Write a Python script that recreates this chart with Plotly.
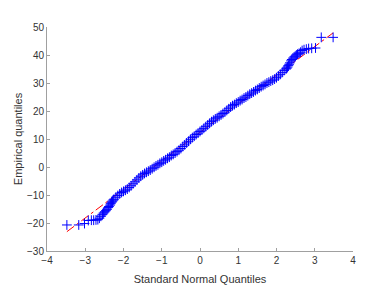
import plotly.graph_objects as go

# Standard normal quantiles (x) and sorted empirical values (y)
theoretical_q = [
    -3.48, -3.17, -3.02, -2.92, -2.84, -2.78, -2.72, -2.67, -2.63, -2.59,
    -2.55, -2.52, -2.49, -2.46, -2.43, -2.40, -2.38, -2.35, -2.33, -2.31,
    -2.29, -2.27, -2.25,
    -2.20, -2.15, -2.10, -2.05, -2.00, -1.95, -1.90, -1.85, -1.80, -1.75,
    -1.70, -1.65, -1.60, -1.55, -1.50, -1.45, -1.40, -1.35, -1.30, -1.25,
    -1.20, -1.15, -1.10, -1.05, -1.00, -0.95, -0.90, -0.85, -0.80, -0.75,
    -0.70, -0.65, -0.60, -0.55, -0.50, -0.45, -0.40, -0.35, -0.30, -0.25,
    -0.20, -0.15, -0.10, -0.05, 0.00, 0.05, 0.10, 0.15, 0.20, 0.25,
    0.30, 0.35, 0.40, 0.45, 0.50, 0.55, 0.60, 0.65, 0.70, 0.75,
    0.80, 0.85, 0.90, 0.95, 1.00, 1.05, 1.10, 1.15, 1.20, 1.25,
    1.30, 1.35, 1.40, 1.45, 1.50, 1.55, 1.60, 1.65, 1.70, 1.75,
    1.80, 1.85, 1.90, 1.95, 2.00, 2.05, 2.10, 2.15, 2.20,
    2.25, 2.27, 2.29, 2.31, 2.33, 2.35, 2.38, 2.40, 2.43, 2.46,
    2.49, 2.52, 2.55, 2.59, 2.63, 2.67, 2.72, 2.78, 2.84, 2.92,
    3.02, 3.17, 3.48,
]
empirical_q = [
    -20.7, -20.7, -20.2, -19.1, -19.0, -19.0, -18.9, -18.8, -18.3, -17.6,
    -16.9, -16.4, -16.0, -15.6, -15.1, -14.5, -14.1, -13.6, -13.1, -12.6,
    -12.2, -11.8, -11.5,
    -10.8, -10.2, -9.6, -9.1, -8.7, -8.3, -7.9, -7.3, -6.7, -6.0,
    -5.3, -4.6, -3.9, -3.3, -2.8, -2.3, -1.9, -1.5, -1.1, -0.6,
    -0.1, 0.4, 0.8, 1.3, 1.7, 2.2, 2.6, 3.1, 3.5, 4.1,
    4.5, 5.0, 5.5, 6.0, 6.6, 7.3, 7.9, 8.6, 9.2, 9.9,
    10.5, 11.0, 11.6, 12.1, 12.7, 13.2, 13.8, 14.4, 15.0, 15.6,
    16.2, 16.7, 17.2, 17.6, 18.1, 18.6, 19.1, 19.6, 20.2, 20.8,
    21.4, 21.9, 22.3, 22.8, 23.2, 23.7, 24.1, 24.6, 25.0, 25.5,
    26.0, 26.4, 26.8, 27.3, 27.7, 28.2, 28.7, 29.1, 29.5, 30.0,
    30.3, 30.7, 31.0, 31.4, 31.9, 32.5, 33.1, 33.8, 34.5,
    35.0, 35.3, 35.7, 36.2, 36.7, 37.2, 37.9, 38.4, 38.9, 39.3,
    39.6, 40.0, 40.3, 40.6, 41.0, 41.6, 41.9, 42.1, 42.3, 42.4,
    42.5, 46.3, 46.3,
]

# Reference line endpoints (through quartiles, extended to sample range)
ref_x = [-3.48, 3.48]
ref_y = [-23.1, 47.9]

x_ticks = [-4, -3, -2, -1, 0, 1, 2, 3, 4]
y_ticks = [-30, -20, -10, 0, 10, 20, 30, 40, 50]

FONT = "Liberation Sans, Arial, sans-serif"

fig = go.Figure()
fig.add_trace(go.Scatter(
    x=ref_x, y=ref_y, mode="lines",
    line=dict(color="red", width=1, dash="dashdot"),
    showlegend=False, hoverinfo="skip",
))
fig.add_trace(go.Scatter(
    x=theoretical_q, y=empirical_q, mode="markers",
    marker=dict(symbol="cross-thin", size=7, color="blue",
                line=dict(color="blue", width=1)),
    showlegend=False,
))

axis_common = dict(
    showgrid=False, zeroline=False, showline=True, linecolor="#a0a0a0",
    linewidth=1, ticks="inside", ticklen=3, tickcolor="#a0a0a0",
    tickfont=dict(family=FONT, size=10, color="#333333"),
    mirror=False, automargin=False,
)

fig.update_layout(
    width=366, height=284,
    margin=dict(l=39, r=21, t=19, b=41),
    paper_bgcolor="white", plot_bgcolor="white",
    xaxis=dict(range=[-4, 4], tickvals=x_ticks,
               title=dict(text="Standard Normal Quantiles", standoff=10,
                          font=dict(family=FONT, size=11, color="#333333")),
               **axis_common),
    yaxis=dict(range=[-30, 50], tickvals=y_ticks,
               title=dict(text="Empirical quantiles", standoff=2,
                          font=dict(family=FONT, size=11, color="#333333")),
               **axis_common),
)

fig.write_html("out.html")
